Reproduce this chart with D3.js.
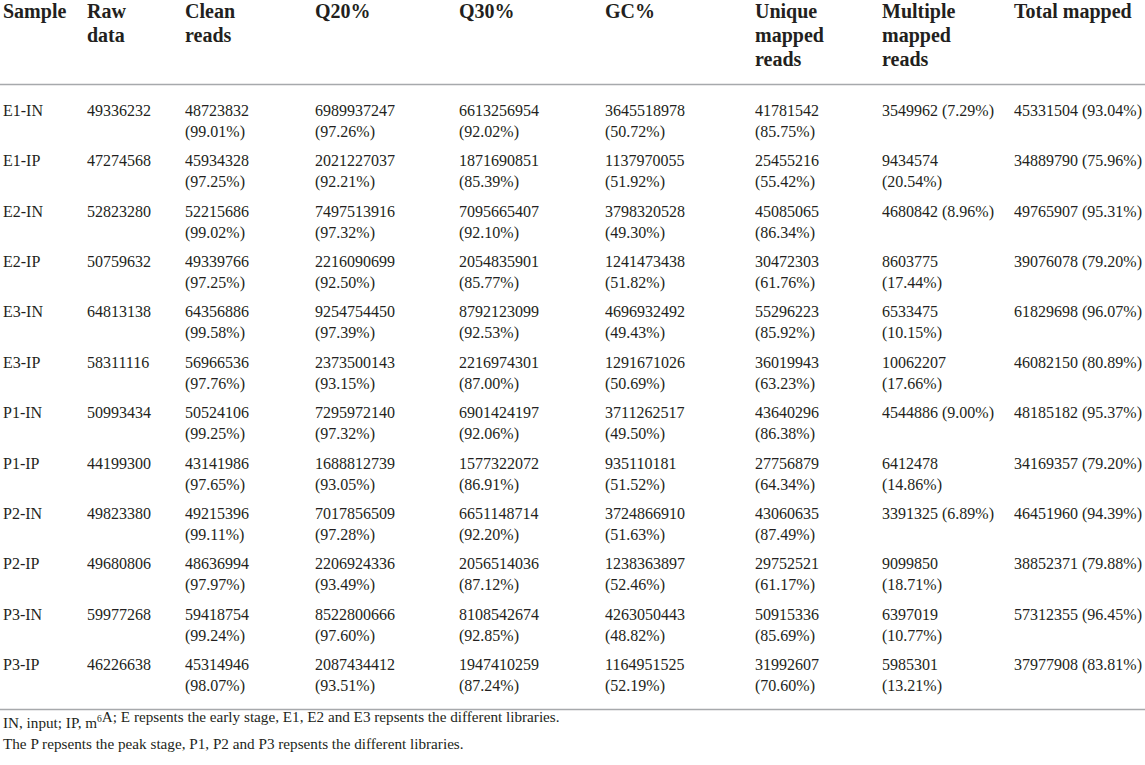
<!DOCTYPE html>
<html>
<head>
<meta charset="utf-8">
<script src="https://cdn.jsdelivr.net/npm/d3@7"></script>
<style>
html,body{margin:0;padding:0;background:#fff;}
svg{display:block;}
</style>
</head>
<body>
<svg id="chart" width="1145" height="765"></svg>
<script>
const headers = [
  ["Sample"], ["Raw", "data"], ["Clean", "reads"], ["Q20%"], ["Q30%"], ["GC%"],
  ["Unique", "mapped", "reads"], ["Multiple", "mapped", "reads"], ["Total mapped"]
];
const samples = ["E1-IN","E1-IP","E2-IN","E2-IP","E3-IN","E3-IP","P1-IN","P1-IP","P2-IN","P2-IP","P3-IN","P3-IP"];
const rawData = [49336232,47274568,52823280,50759632,64813138,58311116,50993434,44199300,49823380,49680806,59977268,46226638];
const cleanReads = [48723832,45934328,52215686,49339766,64356886,56966536,50524106,43141986,49215396,48636994,59418754,45314946];
const cleanPct = ["99.01","97.25","99.02","97.25","99.58","97.76","99.25","97.65","99.11","97.97","99.24","98.07"];
const q20 = [6989937247,2021227037,7497513916,2216090699,9254754450,2373500143,7295972140,1688812739,7017856509,2206924336,8522800666,2087434412];
const q20Pct = ["97.26","92.21","97.32","92.50","97.39","93.15","97.32","93.05","97.28","93.49","97.60","93.51"];
const q30 = [6613256954,1871690851,7095665407,2054835901,8792123099,2216974301,6901424197,1577322072,6651148714,2056514036,8108542674,1947410259];
const q30Pct = ["92.02","85.39","92.10","85.77","92.53","87.00","92.06","86.91","92.20","87.12","92.85","87.24"];
const gc = [3645518978,1137970055,3798320528,1241473438,4696932492,1291671026,3711262517,935110181,3724866910,1238363897,4263050443,1164951525];
const gcPct = ["50.72","51.92","49.30","51.82","49.43","50.69","49.50","51.52","51.63","52.46","48.82","52.19"];
const uniqueMapped = [41781542,25455216,45085065,30472303,55296223,36019943,43640296,27756879,43060635,29752521,50915336,31992607];
const uniquePct = ["85.75","55.42","86.34","61.76","85.92","63.23","86.38","64.34","87.49","61.17","85.69","70.60"];
const multipleMapped = [3549962,9434574,4680842,8603775,6533475,10062207,4544886,6412478,3391325,9099850,6397019,5985301];
const multiplePct = ["7.29","20.54","8.96","17.44","10.15","17.66","9.00","14.86","6.89","18.71","10.77","13.21"];
const totalMapped = [45331504,34889790,49765907,39076078,61829698,46082150,48185182,34169357,46451960,38852371,57312355,37977908];
const totalPct = ["93.04","75.96","95.31","79.20","96.07","80.89","95.37","79.20","94.39","79.88","96.45","83.81"];
const footnotes = [
  ["IN, input; IP, m", {sup:"6"}, "A; E repsents the early stage, E1, E2 and E3 repsents the different libraries."],
  ["The P repsents the peak stage, P1, P2 and P3 repsents the different libraries."]
];

const svg = d3.select("#chart");
const serif = "'Liberation Serif', 'Times New Roman', serif";
const colX = d3.scaleOrdinal().domain(d3.range(9)).range([3, 87, 185, 315, 459, 605, 755, 882, 1014]);
const rowY = d3.scaleLinear().domain([0, samples.length - 1]).range([116, 670]);
const lineH = 21;
const headLineH = 24;
const ink = "#231f20";

// header
const hdr = svg.append("g");
headers.forEach((lines, i) => {
  const t = hdr.append("text")
    .attr("x", colX(i)).attr("y", 18)
    .attr("font-family", serif).attr("font-weight", "bold")
    .attr("font-size", 20).attr("fill", ink);
  lines.forEach((l, j) => t.append("tspan").attr("x", colX(i)).attr("dy", j ? headLineH : 0).text(l));
});

svg.append("line").attr("x1", 0).attr("x2", 1145).attr("y1", 84.5).attr("y2", 84.5)
  .attr("stroke", "#a7a9ac").attr("stroke-width", 1.5);

const fmt = (n, p) => [String(n), "(" + p + "%)"];
const rows = samples.map((s, i) => {
  const multi = multiplePct[i].length <= 4
    ? [multipleMapped[i] + " (" + multiplePct[i] + "%)"]
    : fmt(multipleMapped[i], multiplePct[i]);
  return [
    [s], [String(rawData[i])], fmt(cleanReads[i], cleanPct[i]), fmt(q20[i], q20Pct[i]),
    fmt(q30[i], q30Pct[i]), fmt(gc[i], gcPct[i]), fmt(uniqueMapped[i], uniquePct[i]),
    multi, [totalMapped[i] + " (" + totalPct[i] + "%)"]
  ];
});

const body = svg.append("g");
const rowG = body.selectAll("g.row").data(rows).join("g").attr("class", "row")
  .attr("transform", (d, i) => `translate(0,${rowY(i)})`);
rowG.each(function(cells) {
  const g = d3.select(this);
  cells.forEach((lines, ci) => {
    const t = g.append("text").attr("x", colX(ci)).attr("y", 0)
      .attr("font-family", serif).attr("font-size", 16).attr("fill", ink);
    lines.forEach((l, j) => t.append("tspan").attr("x", colX(ci)).attr("dy", j ? lineH : 0).text(l));
  });
});

svg.append("line").attr("x1", 0).attr("x2", 1145).attr("y1", 709.5).attr("y2", 709.5)
  .attr("stroke", "#a7a9ac").attr("stroke-width", 1.5);

footnotes.forEach((parts, i) => {
  const t = svg.append("text").attr("x", 3).attr("y", 728 + i * 21)
    .attr("font-family", serif).attr("font-size", 15.2).attr("fill", ink);
  parts.forEach(p => {
    if (typeof p === "string") t.append("tspan").text(p);
    else {
      t.append("tspan").attr("dy", -6).attr("font-size", 9.5).text(p.sup);
      t.append("tspan").attr("dy", 6).text("");
    }
  });
});
</script>
</body>
</html>
